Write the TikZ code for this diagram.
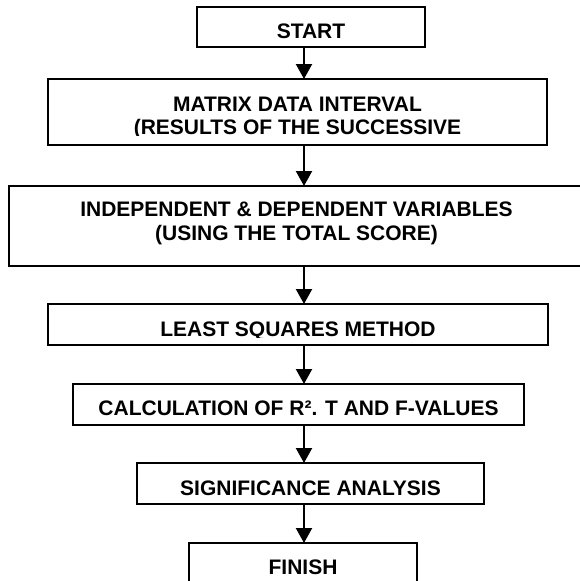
\documentclass[tikz,border=0pt]{standalone}
\usepackage{fontspec}
\setmainfont{Liberation Sans}
\usetikzlibrary{arrows.meta}

\begin{document}
\begin{tikzpicture}[x=1pt, y=-1pt,
  stepbox/.style={draw=black, line width=1.5pt, rectangle, inner sep=0pt, outer sep=0pt},
  label/.style={anchor=base, inner sep=0pt, font=\fontsize{21}{23}\selectfont\bfseries},
  flow/.style={line width=2.2pt, -{Triangle[length=15pt, width=16pt]}}]

  \useasboundingbox (0,0) rectangle (580,581);
  \clip (0,0) rectangle (580,581);

  % boxes (centre, size)
  \node[stepbox, minimum width=228pt, minimum height=40pt] (start) at (311,27) {};
  \node[stepbox, minimum width=499pt, minimum height=66pt] (matrix) at (297.5,112) {};
  \node[stepbox, minimum width=575pt, minimum height=80pt] (vars) at (296.5,226) {};
  \node[stepbox, minimum width=500pt, minimum height=41pt] (lsq) at (298,324.5) {};
  \node[stepbox, minimum width=451pt, minimum height=41pt] (calc) at (298.5,404.5) {};
  \node[stepbox, minimum width=347pt, minimum height=41pt] (sig) at (310.5,483.5) {};
  \node[stepbox, minimum width=228pt, minimum height=50pt] (finish) at (303,568) {};

  % texts
  \node[label] (startT) at (311,38.3) {START};
  \node[label] (matrixA) at (297.5,111.7) {MATRIX DATA INTERVAL};
  \begin{scope}
    \clip (0,0) rectangle (580,135.4);
    \node[label] (matrixB) at (297.5,134.3) {(RESULTS OF THE SUCCESSIVE};
  \end{scope}
  \node[label] (varsA) at (296.5,216.7) {INDEPENDENT \& DEPENDENT VARIABLES};
  \node[label] (varsB) at (296.5,240) {(USING THE TOTAL SCORE)};
  \begin{scope}
    \clip (0,0) rectangle (580,337.8);
    \node[label] (lsqT) at (298,336.7) {LEAST SQUARES METHOD};
  \end{scope}
  \node[label] (calcT) at (298.5,415) {CALCULATION OF R². T AND F-VALUES};
  \node[label] (sigT) at (310.5,495) {SIGNIFICANCE ANALYSIS};
  \node[label] (finishT) at (303,574) {FINISH};

  % connectors along one vertical axis
  \coordinate (ax) at (304,0);
  \draw[flow] (start.south -| ax) -- (matrix.north -| ax);
  \draw[flow] (matrix.south -| ax) -- (vars.north -| ax);
  \draw[flow] (vars.south -| ax) -- (lsq.north -| ax);
  \draw[flow] (lsq.south -| ax) -- (calc.north -| ax);
  \draw[flow] (calc.south -| ax) -- (sig.north -| ax);
  \draw[flow] (sig.south -| ax) -- (finish.north -| ax);
\end{tikzpicture}
\end{document}
